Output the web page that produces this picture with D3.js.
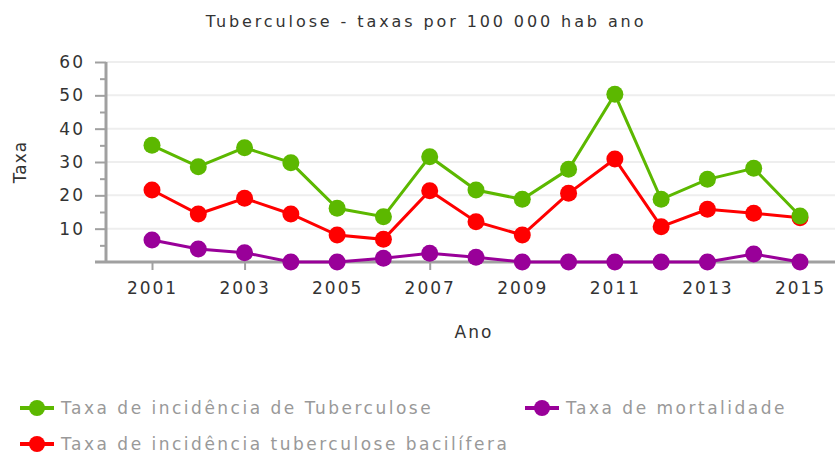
<!DOCTYPE html>
<html>
<head>
<meta charset="utf-8">
<script src="https://cdn.jsdelivr.net/npm/d3@7"></script>
<style>
  body { margin: 0; background: #fff; }
  text { font-family: "DejaVu Sans", sans-serif; }
</style>
</head>
<body>
<svg id="chart"></svg>
<script>
// data
var years = [2001, 2002, 2003, 2004, 2005, 2006, 2007, 2008, 2009, 2010, 2011, 2012, 2013, 2014, 2015];
var incidencia = [35, 28.6, 34.3, 29.8, 16.1, 13.6, 31.6, 21.6, 18.8, 27.8, 50.3, 18.8, 24.8, 28.1, 13.8];
var bacilifera = [21.6, 14.4, 19.1, 14.4, 8.1, 6.8, 21.4, 12.1, 8.1, 20.6, 30.9, 10.6, 15.8, 14.6, 13.3];
var mortalidade = [6.6, 3.9, 2.8, 0, 0, 1.1, 2.6, 1.4, 0, 0, 0, 0, 0, 2.4, 0];
var yTicks = [10, 20, 30, 40, 50, 60];
var xTicks = [2001, 2003, 2005, 2007, 2009, 2011, 2013, 2015];

var series = [
  {name: "Taxa de incidência de Tuberculose", values: incidencia, color: "#5cb800"},
  {name: "Taxa de incidência tuberculose bacilífera", values: bacilifera, color: "#ff0000"},
  {name: "Taxa de mortalidade", values: mortalidade, color: "#990099"}
];

var svgWidth = 835, svgHeight = 455;
var svg = d3.select("#chart").attr("width", svgWidth).attr("height", svgHeight);

var margin = {left: 106};

var x = d3.scaleLinear().domain([2001, 2015]).range([152, 800]);
var y = d3.scaleLinear().domain([0, 60]).range([262, 62]);

var labelStyle = function(sel, size, spacing) {
  sel.style("font-size", size + "px").style("letter-spacing", spacing + "px")
    .style("font-family", "DejaVu Sans, sans-serif");
};

// title
svg.append("text")
  .attr("x", 426).attr("y", 27)
  .attr("text-anchor", "middle")
  .attr("fill", "#333")
  .call(labelStyle, 16, 2.9)
  .text("Tuberculose - taxas por 100 000 hab ano");

// gridlines
svg.append("g").selectAll("line").data(yTicks).enter().append("line")
  .attr("x1", margin.left).attr("x2", svgWidth)
  .attr("y1", d => y(d)).attr("y2", d => y(d))
  .attr("stroke", "#eeeeee").attr("stroke-width", 2);

// y axis
var yAxis = d3.axisLeft(y).tickValues(yTicks).tickSize(11).tickPadding(10);
var yGroup = svg.append("g").attr("transform", "translate(" + margin.left + ",0)").call(yAxis);
yGroup.select(".domain").remove();
yGroup.selectAll(".tick line").attr("stroke", "#a0a0a0").attr("stroke-width", 2);
yGroup.selectAll(".tick text").attr("fill", "#333").call(labelStyle, 17, 2);
// minor ticks
var minor = d3.axisLeft(y).tickValues([5, 15, 25, 35, 45, 55]).tickSize(6).tickFormat("");
var mGroup = svg.append("g").attr("transform", "translate(" + margin.left + ",0)").call(minor);
mGroup.select(".domain").remove();
mGroup.selectAll(".tick line").attr("stroke", "#a0a0a0").attr("stroke-width", 2);

svg.append("line")
  .attr("x1", margin.left).attr("x2", margin.left)
  .attr("y1", y(60)).attr("y2", y(0))
  .attr("stroke", "#a0a0a0").attr("stroke-width", 3);

// x axis
var xAxis = d3.axisBottom(x).tickValues(xTicks).tickFormat(d3.format("d")).tickSize(8).tickPadding(12);
var xGroup = svg.append("g").attr("transform", "translate(0," + y(0) + ")").call(xAxis);
xGroup.select(".domain").remove();
xGroup.selectAll(".tick line").attr("stroke", "#a0a0a0").attr("stroke-width", 2);
xGroup.selectAll(".tick text").attr("fill", "#333").call(labelStyle, 17, 2);
svg.append("line")
  .attr("x1", 95).attr("x2", svgWidth)
  .attr("y1", y(0)).attr("y2", y(0))
  .attr("stroke", "#a0a0a0").attr("stroke-width", 3);

// axis titles
svg.append("text")
  .attr("transform", "translate(26,162) rotate(-90)")
  .attr("text-anchor", "middle")
  .attr("fill", "#333").call(labelStyle, 17, 1)
  .text("Taxa");
svg.append("text")
  .attr("x", 474).attr("y", 338)
  .attr("text-anchor", "middle")
  .attr("fill", "#333").call(labelStyle, 17, 2)
  .text("Ano");

// lines and markers
var line = d3.line().x((d, i) => x(years[i])).y(d => y(d));
var order = [series[2], series[1], series[0]];
order.forEach(function(s) {
  var g = svg.append("g");
  g.append("path").datum(s.values)
    .attr("d", line).attr("fill", "none")
    .attr("stroke", s.color).attr("stroke-width", 3);
  g.selectAll("circle").data(s.values).enter().append("circle")
    .attr("cx", (d, i) => x(years[i])).attr("cy", d => y(d))
    .attr("r", 8.5).attr("fill", s.color);
});

// legend
var legendPos = [
  {s: series[0], x: 37, y: 408},
  {s: series[2], x: 542, y: 408},
  {s: series[1], x: 37, y: 444}
];
var leg = svg.append("g").selectAll("g").data(legendPos).enter().append("g")
  .attr("transform", d => "translate(" + d.x + "," + d.y + ")");
leg.append("line").attr("x1", -17).attr("x2", 17)
  .attr("stroke", d => d.s.color).attr("stroke-width", 4);
leg.append("circle").attr("r", 8).attr("fill", d => d.s.color);
leg.append("text").attr("x", 24).attr("dy", "0.35em")
  .attr("fill", "#999").call(labelStyle, 17, 2.5)
  .text(d => d.s.name);
</script>
</body>
</html>
